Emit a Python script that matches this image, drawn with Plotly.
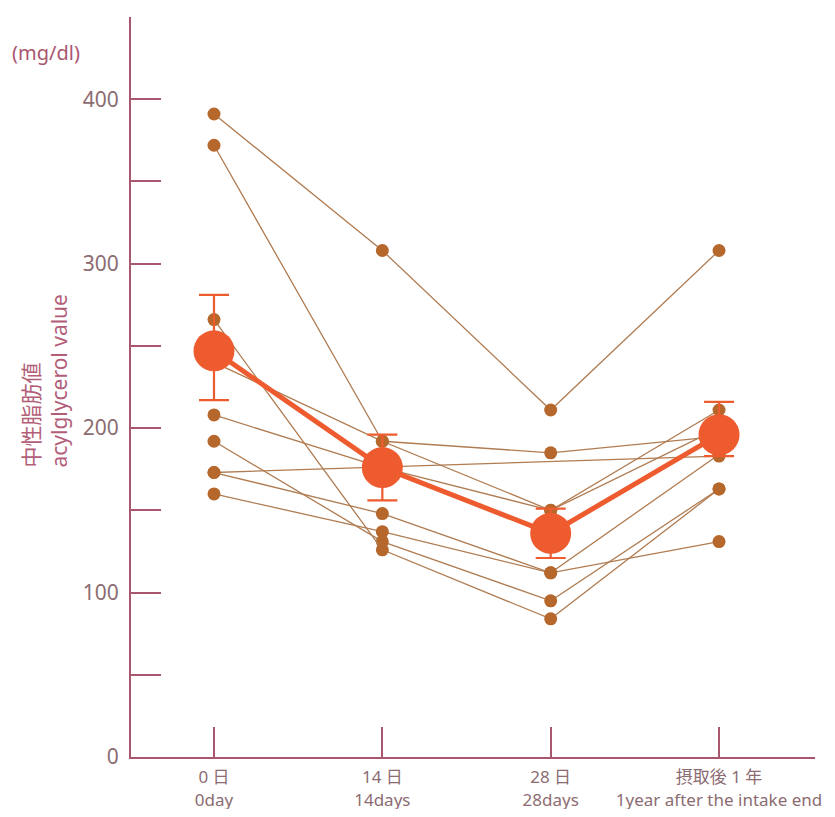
import plotly.graph_objects as go

# ---- data ----
categories = ["0 日<br>0day", "14 日<br>14days", "28 日<br>28days", "摂取後 1 年<br>1year after the intake end"]
x_pos = [0, 1, 2, 3]

subject_1 = [391, 308, 211, 308]
subject_2 = [372, 192, 150, 211]
subject_3 = [240, 192, 185, 195]
subject_4 = [208, 176, 150, 200]
subject_5 = [173, 148, 112, 184]
subject_6 = [160, 137, 112, 131]
subject_7 = [192, 131, 95, 163]
subject_8 = [266, 126, 84, 163]
subject_9 = [173, None, None, 183]
subjects = [subject_1, subject_2, subject_3, subject_4, subject_5,
            subject_6, subject_7, subject_8, subject_9]

mean_values = [247, 176, 136, 196]
err_plus = [34, 20, 15, 20]
err_minus = [30, 20, 15, 13]

y_tickvals = [0, 50, 100, 150, 200, 250, 300, 350, 400, 450]
y_ticktext = ["0", "", "100", "", "200", "", "300", "", "400", ""]

# ---- styles ----
axis_col = "#A9566F"
label_col = "#8C6C72"
subj_line = "#B07C52"
subj_marker = "#B5672C"
mean_col = "#EE5B2F"
font_fam = "Noto Sans, Noto Sans CJK JP, sans-serif"

fig = go.Figure()

for s in subjects:
    xs = [x for x, v in zip(x_pos, s) if v is not None]
    ys = [v for v in s if v is not None]
    fig.add_trace(go.Scatter(
        x=xs, y=ys, mode="lines+markers",
        line=dict(color=subj_line, width=1.3),
        marker=dict(color=subj_marker, size=13),
        showlegend=False, hoverinfo="skip"))

fig.add_trace(go.Scatter(
    x=x_pos, y=mean_values, mode="lines+markers",
    line=dict(color=mean_col, width=5),
    marker=dict(color=mean_col, size=41),
    error_y=dict(type="data", symmetric=False, array=err_plus, arrayminus=err_minus,
                 color=mean_col, thickness=2.2, width=15),
    showlegend=False))

fig.update_layout(
    width=819, height=801,
    margin=dict(l=123, r=12, t=9, b=52),
    paper_bgcolor="white", plot_bgcolor="white",
    font=dict(family=font_fam, color=label_col),
    xaxis=dict(
        range=[-0.493, 3.57], tickvals=x_pos, ticktext=categories,
        showline=True, linecolor=axis_col, linewidth=2,
        ticks="inside", ticklen=30, tickcolor=axis_col, tickwidth=1.5,
        showgrid=False, zeroline=False, ticklabeloverflow="allow",
        ticklabelstandoff=4, automargin=False,
        tickfont=dict(size=17, color=label_col)),
    yaxis=dict(
        range=[0, 450], tickvals=y_tickvals, ticktext=y_ticktext,
        showline=True, linecolor=axis_col, linewidth=2,
        ticks="inside", ticklen=30, tickcolor=axis_col, tickwidth=1.5,
        showgrid=False, zeroline=False, ticklabelstandoff=6, automargin=False,
        tickfont=dict(size=21, color=label_col)),
    annotations=[
        dict(text="(mg/dl)", xref="paper", yref="paper", x=-0.177, y=0.9527,
             xanchor="left", yanchor="middle", showarrow=False,
             font=dict(size=20, color=axis_col)),
        dict(text="中性脂肪値<br>acylglycerol value", xref="paper", yref="paper",
             x=-0.1257, y=0.3878, xanchor="center", yanchor="bottom",
             textangle=-90, align="left", showarrow=False,
             font=dict(size=21, color="#B25E78")),
    ],
)

fig.write_html("out.html")
